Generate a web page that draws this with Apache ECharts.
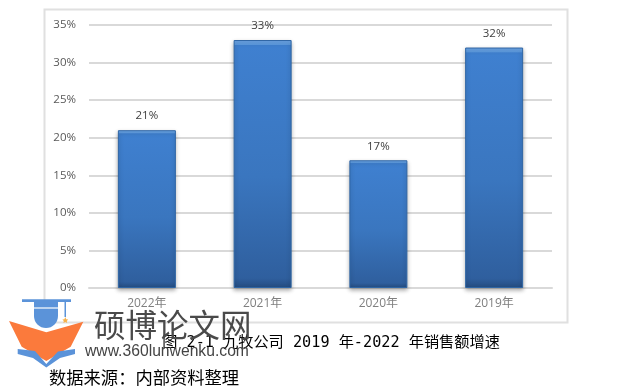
<!DOCTYPE html>
<html><head><meta charset="utf-8">
<style>html,body{margin:0;padding:0;background:#fff}#c{width:623px;height:389px}</style>
<script src="https://cdn.jsdelivr.net/npm/echarts@6/dist/echarts.min.js"></script>
</head><body><div id="c"></div>
<script>
var categories = ['2022年','2021年','2020年','2019年'];
var growth = [21,33,17,32];
var yTicks = {min:0,max:35,interval:5};
var caption = '图 2-1 九牧公司 2019 年-2022 年销售额增速';
var sourceNote = '数据来源：内部资料整理';
var siteName = '硕博论文网';
var siteUrl = 'www.360lunwenku.com';
var chart = echarts.init(document.getElementById('c'),null,{renderer:'canvas'});
var cjk = '"Noto Sans CJK SC"';
var blue = '#5b93d9', orange = '#fb7a3c';
chart.setOption({
  animation:false,
  grid:{left:89,right:71,top:25,bottom:101},
  xAxis:{type:'category',data:categories,
    axisLine:{show:true,lineStyle:{color:'#d9d9d9',width:2}},axisTick:{show:false},
    axisLabel:{color:'#7f7f7f',fontSize:12,margin:10,fontFamily:'"Open Sans",'+cjk}},
  yAxis:{type:'value',min:yTicks.min,max:yTicks.max,interval:yTicks.interval,
    axisLine:{show:false},axisTick:{show:false},
    splitLine:{lineStyle:{color:'#d9d9d9',width:2}},
    axisLabel:{color:'#595959',fontSize:11.5,margin:13,formatter:'{value}%',fontFamily:'"Open Sans"'}},
  series:[{type:'bar',data:growth,barWidth:58,
    itemStyle:{
      color:new echarts.graphic.LinearGradient(0,0,0,1,[
        {offset:0,color:'#6ea6e6'},{offset:0.018,color:'#5d9be0'},{offset:0.022,color:'#3f80d0'},
        {offset:0.55,color:'#3a76bf'},{offset:0.96,color:'#2f5f9e'},{offset:1,color:'#244c80'}]),
      borderColor:'#2f66a5',borderWidth:1,
      shadowColor:'rgba(0,0,0,0.3)',shadowBlur:4,shadowOffsetY:2},
    label:{show:true,position:'top',distance:8,color:'#404040',fontSize:11.5,formatter:'{c}%',fontFamily:'"Open Sans"'}
  }],
  graphic:[
    {type:'rect',z:-1,silent:true,shape:{x:44.5,y:9.5,width:523,height:313},style:{fill:'#fff',stroke:'#e0e0e0',lineWidth:2}},
    {type:'text',z:100,style:{x:331,y:343,text:caption,align:'center',verticalAlign:'middle',fill:'#000',font:'15.2px "DejaVu Sans Mono",'+cjk}},
    {type:'text',z:100,style:{x:49,y:377,text:sourceNote,align:'left',verticalAlign:'middle',fill:'#000',font:'17.3px '+cjk}},
    {type:'text',z:101,style:{x:94,y:325,text:siteName,align:'left',verticalAlign:'middle',fill:'#4a4a4a',font:'31.5px '+cjk}},
    {type:'text',z:101,style:{x:85,y:352,text:siteUrl,align:'left',verticalAlign:'middle',fill:'#444',font:'15.7px "Liberation Sans"'}},
    {type:'rect',z:102,shape:{x:22,y:299.3,width:49,height:2.6},style:{fill:blue}},
    {type:'rect',z:102,shape:{x:34,y:302,width:24,height:14},style:{fill:blue}},
    {type:'circle',z:102,shape:{cx:46,cy:316,r:12},style:{fill:blue}},
    {type:'rect',z:103,shape:{x:34,y:307.4,width:24,height:1.2},style:{fill:'#fff'}},
    {type:'rect',z:102,shape:{x:64.5,y:301,width:1.5,height:16},style:{fill:blue}},
    {type:'polygon',z:102,shape:{points:[[65.3,317],[66.2,319.2],[68.2,319.5],[66.8,321],[67.2,323],[65.3,322],[63.4,323],[63.8,321],[62.4,319.5],[64.4,319.2]]},style:{fill:'#f7b24a'}},
    {type:'polygon',z:102,shape:{points:[[9,321],[46.3,332.3],[83.3,321.7],[70.7,346.7],[46.3,361],[21.7,346.7]]},style:{fill:orange}},
    {type:'polygon',z:102,shape:{points:[[17.7,349],[35,351],[46.3,364],[58,351.5],[75,349],[75,354],[60,358],[46.3,367.5],[33,358],[17.7,354]]},style:{fill:blue}}
  ]
});
</script></body></html>
